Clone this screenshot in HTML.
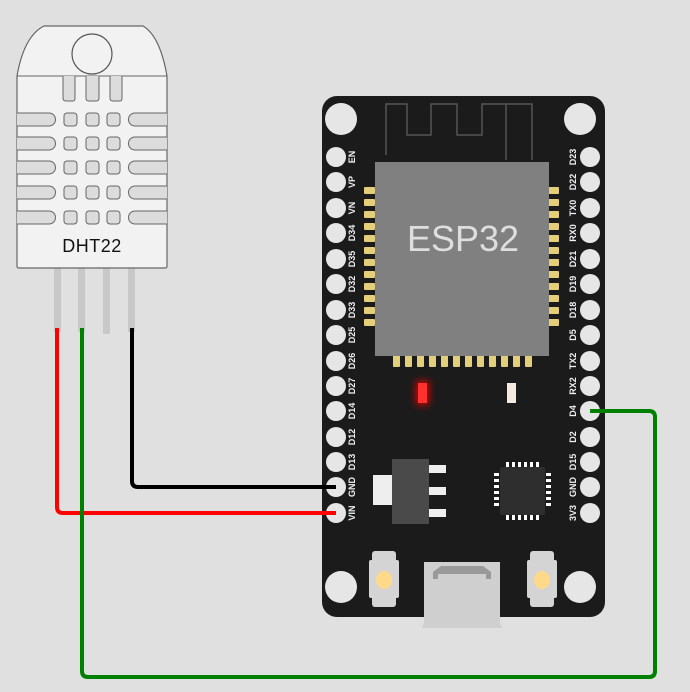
<!DOCTYPE html>
<html><head><meta charset="utf-8"><style>
html,body{margin:0;padding:0;background:#e0e0e0;}
svg{display:block;}
text{font-family:"Liberation Sans",sans-serif;}
</style></head><body>
<svg width="690" height="692" viewBox="0 0 690 692" xmlns="http://www.w3.org/2000/svg">
<defs><filter id="glow" x="-2" y="-2" width="5" height="5"><feGaussianBlur stdDeviation="4"/></filter></defs>
<rect width="690" height="692" fill="#e0e0e0"/>
<!-- DHT22 legs -->
<g fill="#c8c8c8">
<rect x="54" y="268" width="7" height="64"/>
<rect x="78" y="268" width="7" height="64"/>
<rect x="103" y="268" width="7" height="66"/>
<rect x="128" y="268" width="7" height="64"/>
</g>
<!-- DHT22 body -->
<path d="M17,76 Q24,36 44,26 L143,26 Q160,36 167,76 L167,266 Q167,268 165,268 L19,268 Q17,268 17,266 Z" fill="#f2f2f2" stroke="#666" stroke-width="1.2"/>
<line x1="17" y1="76" x2="167" y2="76" stroke="#666" stroke-width="1"/>
<circle cx="92" cy="54" r="20" fill="#f2f2f2" stroke="#555" stroke-width="1.2"/>
<g fill="#dcdcdc" stroke="#666" stroke-width="1">
<path d="M63,76 L63,98 Q63,101 66,101 L73,101 Q75,101 75,98 L75,76"/>
<path d="M86,76 L86,98 Q86,101 89,101 L96,101 Q99,101 99,98 L99,76"/>
<path d="M110,76 L110,98 Q110,101 113,101 L120,101 Q122,101 122,98 L122,76"/>
</g>
<g fill="#dcdcdc" stroke="#666" stroke-width="1">
<g id="row">
<path d="M17,113 L49,113 A6.5,6.5 0 0 1 49,126 L17,126"/>
<rect x="64" y="113" width="13" height="13" rx="3"/>
<rect x="86" y="113" width="13" height="13" rx="3"/>
<rect x="107" y="113" width="13" height="13" rx="3"/>
<path d="M167,113 L135,113 A6.5,6.5 0 0 0 135,126 L167,126"/>
</g>
<use href="#row" y="24"/>
<use href="#row" y="48"/>
<use href="#row" y="73"/>
<use href="#row" y="98"/>
</g>
<text x="92" y="252" font-size="18" text-anchor="middle" fill="#111" letter-spacing="0.5">DHT22</text>

<!-- ESP32 board -->
<rect x="322" y="96" width="283" height="521" rx="15" fill="#1b1b1b"/>
<!-- USB -->
<rect x="424" y="562" width="76" height="62" fill="#cfcfcf"/>
<path d="M422,628 L502,628 L500,622 L424,622 Z" fill="#cfcfcf"/>
<path d="M433,572 L441,566 L483,566 L491,572 L491,579 L486,579 L486,574 L438,574 L438,579 L433,579 Z" fill="#999"/>
<!-- holes -->
<g fill="#e6e6e6">
<circle cx="341" cy="119" r="16"/><circle cx="580" cy="119" r="16"/>
<circle cx="341" cy="587" r="16"/><circle cx="580" cy="587" r="16"/>
</g>
<!-- antenna -->
<path d="M386,155 L386,104 L407,104 L407,135 L431,135 L431,104 L457,104 L457,135 L482,135 L482,104 L532,104 L532,160 M506,104 L506,160" fill="none" stroke="#555" stroke-width="1.5"/>
<!-- chip pads -->
<g fill="#e3cf7a">
<rect x="364" y="187" width="11" height="7" rx="1"/><rect x="364" y="199" width="11" height="7" rx="1"/><rect x="364" y="211" width="11" height="7" rx="1"/><rect x="364" y="223" width="11" height="7" rx="1"/><rect x="364" y="235" width="11" height="7" rx="1"/><rect x="364" y="247" width="11" height="7" rx="1"/><rect x="364" y="259" width="11" height="7" rx="1"/><rect x="364" y="271" width="11" height="7" rx="1"/><rect x="364" y="283" width="11" height="7" rx="1"/><rect x="364" y="295" width="11" height="7" rx="1"/><rect x="364" y="307" width="11" height="7" rx="1"/><rect x="364" y="319" width="11" height="7" rx="1"/>
<rect x="548" y="187" width="11" height="7" rx="1"/><rect x="548" y="199" width="11" height="7" rx="1"/><rect x="548" y="211" width="11" height="7" rx="1"/><rect x="548" y="223" width="11" height="7" rx="1"/><rect x="548" y="235" width="11" height="7" rx="1"/><rect x="548" y="247" width="11" height="7" rx="1"/><rect x="548" y="259" width="11" height="7" rx="1"/><rect x="548" y="271" width="11" height="7" rx="1"/><rect x="548" y="283" width="11" height="7" rx="1"/><rect x="548" y="295" width="11" height="7" rx="1"/><rect x="548" y="307" width="11" height="7" rx="1"/><rect x="548" y="319" width="11" height="7" rx="1"/>
<rect x="393" y="355" width="7" height="12" rx="1"/><rect x="405" y="355" width="7" height="12" rx="1"/><rect x="417" y="355" width="7" height="12" rx="1"/><rect x="429" y="355" width="7" height="12" rx="1"/><rect x="441" y="355" width="7" height="12" rx="1"/><rect x="453" y="355" width="7" height="12" rx="1"/><rect x="465" y="355" width="7" height="12" rx="1"/><rect x="477" y="355" width="7" height="12" rx="1"/><rect x="489" y="355" width="7" height="12" rx="1"/><rect x="501" y="355" width="7" height="12" rx="1"/><rect x="513" y="355" width="7" height="12" rx="1"/><rect x="525" y="355" width="7" height="12" rx="1"/>
</g>
<rect x="375" y="162" width="174" height="194" fill="#808080"/>
<text x="463" y="251" font-size="36" text-anchor="middle" fill="#dedede">ESP32</text>
<!-- LEDs -->
<rect x="416" y="381" width="13" height="24" fill="#ff0000" filter="url(#glow)" opacity="0.8"/>
<rect x="418" y="383" width="9" height="20" fill="#ff3030"/>
<rect x="507" y="383" width="9" height="20" fill="#f4eadf"/>
<!-- regulator -->
<rect x="373" y="475" width="19" height="30" fill="#eeeeee"/>
<rect x="392" y="459" width="37" height="65" fill="#4a4a4a"/>
<rect x="429" y="465" width="17" height="8" fill="#eeeeee"/>
<rect x="429" y="487" width="17" height="8" fill="#eeeeee"/>
<rect x="429" y="509" width="17" height="8" fill="#eeeeee"/>
<!-- QFN -->
<rect x="500" y="467" width="45" height="48" rx="2" fill="#2e2e2e"/>
<g fill="#ffffff">
<rect x="506" y="462" width="3" height="5"/><rect x="512" y="462" width="3" height="5"/><rect x="518" y="462" width="3" height="5"/><rect x="524" y="462" width="3" height="5"/><rect x="530" y="462" width="3" height="5"/><rect x="536" y="462" width="3" height="5"/>
<rect x="506" y="515" width="3" height="5"/><rect x="512" y="515" width="3" height="5"/><rect x="518" y="515" width="3" height="5"/><rect x="524" y="515" width="3" height="5"/><rect x="530" y="515" width="3" height="5"/><rect x="536" y="515" width="3" height="5"/>
<rect x="494" y="473" width="5" height="3"/><rect x="494" y="479" width="5" height="3"/><rect x="494" y="485" width="5" height="3"/><rect x="494" y="491" width="5" height="3"/><rect x="494" y="497" width="5" height="3"/><rect x="494" y="503" width="5" height="3"/>
<rect x="546" y="473" width="5" height="3"/><rect x="546" y="479" width="5" height="3"/><rect x="546" y="485" width="5" height="3"/><rect x="546" y="491" width="5" height="3"/><rect x="546" y="497" width="5" height="3"/><rect x="546" y="503" width="5" height="3"/>
</g>
<!-- buttons -->
<g>
<rect x="372" y="551" width="24" height="56" rx="3" fill="#d4d4d4"/>
<rect x="369" y="560" width="30" height="38" rx="2" fill="#d4d4d4"/>
<ellipse cx="384" cy="580" rx="8" ry="9" fill="#ffd98a"/>
<rect x="530" y="551" width="24" height="56" rx="3" fill="#d4d4d4"/>
<rect x="527" y="560" width="30" height="38" rx="2" fill="#d4d4d4"/>
<ellipse cx="542" cy="580" rx="8" ry="9" fill="#ffd98a"/>
</g>
<!-- pins -->
<g fill="#e6e6e6">
<circle cx="336" cy="157" r="10"/><circle cx="336" cy="182" r="10"/><circle cx="336" cy="208" r="10"/><circle cx="336" cy="233" r="10"/><circle cx="336" cy="259" r="10"/><circle cx="336" cy="284" r="10"/><circle cx="336" cy="310" r="10"/><circle cx="336" cy="335" r="10"/><circle cx="336" cy="361" r="10"/><circle cx="336" cy="386" r="10"/><circle cx="336" cy="411" r="10"/><circle cx="336" cy="437" r="10"/><circle cx="336" cy="462" r="10"/><circle cx="336" cy="487" r="10"/><circle cx="336" cy="513" r="10"/>
<circle cx="590" cy="157" r="10"/><circle cx="590" cy="182" r="10"/><circle cx="590" cy="208" r="10"/><circle cx="590" cy="233" r="10"/><circle cx="590" cy="259" r="10"/><circle cx="590" cy="284" r="10"/><circle cx="590" cy="310" r="10"/><circle cx="590" cy="335" r="10"/><circle cx="590" cy="361" r="10"/><circle cx="590" cy="386" r="10"/><circle cx="590" cy="411" r="10"/><circle cx="590" cy="437" r="10"/><circle cx="590" cy="462" r="10"/><circle cx="590" cy="487" r="10"/><circle cx="590" cy="513" r="10"/>
</g>
<g font-size="9" font-weight="bold" fill="#f0f0f0" text-anchor="middle">
<text transform="translate(355,157) rotate(-90)">EN</text>
<text transform="translate(355,182) rotate(-90)">VP</text>
<text transform="translate(355,208) rotate(-90)">VN</text>
<text transform="translate(355,233) rotate(-90)">D34</text>
<text transform="translate(355,259) rotate(-90)">D35</text>
<text transform="translate(355,284) rotate(-90)">D32</text>
<text transform="translate(355,310) rotate(-90)">D33</text>
<text transform="translate(355,335) rotate(-90)">D25</text>
<text transform="translate(355,361) rotate(-90)">D26</text>
<text transform="translate(355,386) rotate(-90)">D27</text>
<text transform="translate(355,411) rotate(-90)">D14</text>
<text transform="translate(355,437) rotate(-90)">D12</text>
<text transform="translate(355,462) rotate(-90)">D13</text>
<text transform="translate(355,487) rotate(-90)">GND</text>
<text transform="translate(355,513) rotate(-90)">VIN</text>
<text transform="translate(576,157) rotate(-90)">D23</text>
<text transform="translate(576,182) rotate(-90)">D22</text>
<text transform="translate(576,208) rotate(-90)">TX0</text>
<text transform="translate(576,233) rotate(-90)">RX0</text>
<text transform="translate(576,259) rotate(-90)">D21</text>
<text transform="translate(576,284) rotate(-90)">D19</text>
<text transform="translate(576,310) rotate(-90)">D18</text>
<text transform="translate(576,335) rotate(-90)">D5</text>
<text transform="translate(576,361) rotate(-90)">TX2</text>
<text transform="translate(576,386) rotate(-90)">RX2</text>
<text transform="translate(576,411) rotate(-90)">D4</text>
<text transform="translate(576,437) rotate(-90)">D2</text>
<text transform="translate(576,462) rotate(-90)">D15</text>
<text transform="translate(576,487) rotate(-90)">GND</text>
<text transform="translate(576,513) rotate(-90)">3V3</text>
</g>
<!-- wires -->
<g fill="none" stroke-width="4" stroke-linejoin="round">
<path d="M57,328 L57,507 Q57,513 63,513 L336,513" stroke="#ff0000"/>
<path d="M132,328 L132,481 Q132,487 138,487 L336,487" stroke="#000000"/>
<path d="M82,328 L82,671 Q82,677 88,677 L649,677 Q655,677 655,671 L655,417 Q655,411 649,411 L590,411" stroke="#008000"/>
</g>
</svg>
</body></html>
